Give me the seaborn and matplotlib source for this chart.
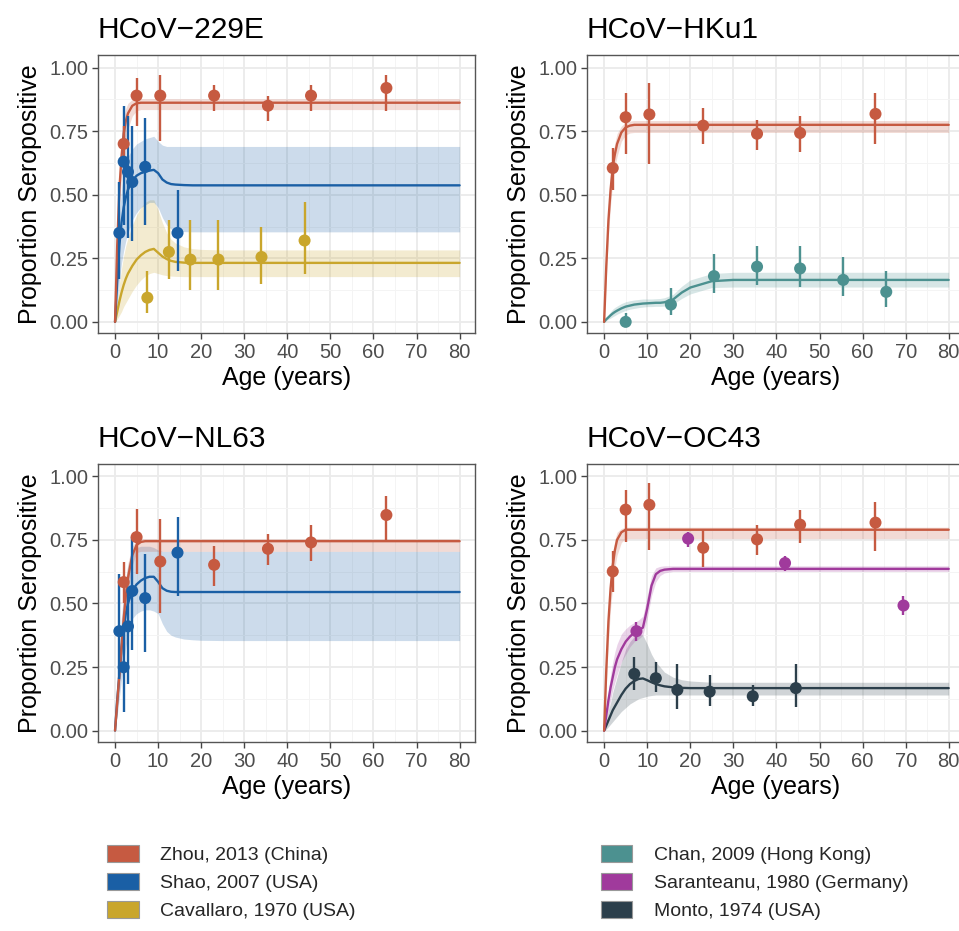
import numpy as np
import pandas as pd
import matplotlib
matplotlib.use("Agg")
import matplotlib.pyplot as plt
from matplotlib.patches import Patch
import seaborn as sns

# ---- study colours ----
STUDIES = ["Zhou, 2013 (China)", "Shao, 2007 (USA)", "Cavallaro, 1970 (USA)",
           "Chan, 2009 (Hong Kong)", "Saranteanu, 1980 (Germany)", "Monto, 1974 (USA)"]
COLORS = ["#C65A41", "#1A5FA5", "#C9A62C", "#4C9190", "#A03A9C", "#2C3F4B"]

# ---- observed points (age, proportion, lower, upper) ----
ZHOU_AGE = [2, 5, 10.5, 23, 35.5, 45.5, 63]
ZHOU_229E = [0.70, 0.89, 0.89, 0.89, 0.85, 0.89, 0.92]
ZHOU_229E_LO = [0.63, 0.77, 0.71, 0.83, 0.79, 0.83, 0.83]
ZHOU_229E_HI = [0.77, 0.96, 0.97, 0.93, 0.89, 0.93, 0.97]
ZHOU_HKU1 = [0.605, 0.805, 0.816, 0.772, 0.74, 0.743, 0.818]
ZHOU_HKU1_LO = [0.52, 0.66, 0.62, 0.70, 0.675, 0.667, 0.70]
ZHOU_HKU1_HI = [0.684, 0.90, 0.94, 0.84, 0.796, 0.81, 0.90]
ZHOU_NL63 = [0.584, 0.761, 0.665, 0.652, 0.715, 0.74, 0.848]
ZHOU_NL63_LO = [0.50, 0.614, 0.463, 0.568, 0.65, 0.667, 0.74]
ZHOU_NL63_HI = [0.665, 0.873, 0.833, 0.725, 0.774, 0.81, 0.922]
ZHOU_OC43 = [0.626, 0.869, 0.888, 0.719, 0.752, 0.81, 0.818]
ZHOU_OC43_LO = [0.545, 0.741, 0.709, 0.643, 0.692, 0.738, 0.705]
ZHOU_OC43_HI = [0.706, 0.948, 0.974, 0.787, 0.807, 0.866, 0.90]

SHAO_AGE = [1, 2, 3, 4, 7, 14.5]
SHAO_229E = [0.35, 0.63, 0.59, 0.55, 0.61, 0.35]
SHAO_229E_LO = [0.17, 0.38, 0.33, 0.32, 0.38, 0.20]
SHAO_229E_HI = [0.55, 0.85, 0.81, 0.77, 0.80, 0.52]
SHAO_NL63 = [0.391, 0.249, 0.41, 0.549, 0.521, 0.70]
SHAO_NL63_LO = [0.203, 0.072, 0.184, 0.318, 0.308, 0.531]
SHAO_NL63_HI = [0.614, 0.394, 0.56, 0.761, 0.693, 0.84]

CAVALLARO_AGE = [7.5, 12.5, 17.5, 24, 34, 44]
CAVALLARO_229E = [0.095, 0.275, 0.245, 0.245, 0.255, 0.32]
CAVALLARO_229E_LO = [0.035, 0.17, 0.125, 0.125, 0.15, 0.19]
CAVALLARO_229E_HI = [0.20, 0.40, 0.40, 0.40, 0.375, 0.47]

CHAN_AGE = [5, 15.5, 25.5, 35.5, 45.5, 55.5, 65.5]
CHAN_HKU1 = [0.0, 0.068, 0.18, 0.217, 0.21, 0.165, 0.118]
CHAN_HKU1_LO = [0.0, 0.026, 0.112, 0.145, 0.138, 0.10, 0.06]
CHAN_HKU1_HI = [0.033, 0.135, 0.267, 0.30, 0.30, 0.257, 0.20]

SARANTEANU_AGE = [7.5, 19.5, 42, 69.5]
SARANTEANU_OC43 = [0.391, 0.755, 0.659, 0.492]
SARANTEANU_OC43_LO = [0.354, 0.722, 0.627, 0.453]
SARANTEANU_OC43_HI = [0.426, 0.781, 0.685, 0.531]

MONTO_AGE = [7, 12, 17, 24.5, 34.5, 44.5]
MONTO_OC43 = [0.223, 0.206, 0.16, 0.153, 0.135, 0.167]
MONTO_OC43_LO = [0.16, 0.151, 0.085, 0.098, 0.096, 0.094]
MONTO_OC43_HI = [0.291, 0.269, 0.262, 0.217, 0.18, 0.262]

# ---- fitted curves at these ages ----
FIT_AGE = [0, 0.5, 1, 1.5, 2, 2.5, 3, 4, 5, 6, 7, 8, 9, 10, 11, 12, 13, 14, 16, 18, 20, 25, 30, 80]

FIT_229E_ZHOU = [0, 0.30, 0.52, 0.65, 0.74, 0.79, 0.82, 0.85, 0.86, 0.862, 0.862, 0.862, 0.862, 0.862,
                 0.862, 0.862, 0.862, 0.862, 0.862, 0.862, 0.862, 0.862, 0.862, 0.862]
LO_229E_ZHOU = [0, 0.24, 0.44, 0.57, 0.66, 0.72, 0.76, 0.81, 0.83, 0.835, 0.835, 0.835, 0.835, 0.835,
                0.835, 0.835, 0.835, 0.835, 0.835, 0.835, 0.835, 0.835, 0.835, 0.835]
HI_229E_ZHOU = [0, 0.36, 0.60, 0.72, 0.80, 0.84, 0.86, 0.875, 0.878, 0.878, 0.878, 0.878, 0.878, 0.878,
                0.878, 0.878, 0.878, 0.878, 0.878, 0.878, 0.878, 0.878, 0.878, 0.878]

FIT_229E_SHAO = [0, 0.16, 0.30, 0.39, 0.45, 0.49, 0.52, 0.555, 0.575, 0.585, 0.59, 0.595, 0.598, 0.585,
                 0.56, 0.548, 0.542, 0.54, 0.538, 0.537, 0.537, 0.537, 0.537, 0.537]
LO_229E_SHAO = [0, 0.08, 0.16, 0.23, 0.28, 0.32, 0.35, 0.40, 0.43, 0.45, 0.46, 0.47, 0.47, 0.45,
                0.41, 0.38, 0.365, 0.36, 0.355, 0.354, 0.354, 0.354, 0.354, 0.354]
HI_229E_SHAO = [0, 0.24, 0.42, 0.52, 0.58, 0.62, 0.65, 0.68, 0.70, 0.71, 0.72, 0.725, 0.73, 0.71,
                0.695, 0.69, 0.69, 0.69, 0.69, 0.69, 0.69, 0.69, 0.69, 0.69]

FIT_229E_CAV = [0, 0.04, 0.08, 0.115, 0.145, 0.17, 0.19, 0.22, 0.245, 0.262, 0.275, 0.283, 0.287, 0.272,
                0.257, 0.247, 0.24, 0.236, 0.233, 0.232, 0.232, 0.232, 0.232, 0.232]
LO_229E_CAV = [0, 0.01, 0.025, 0.04, 0.06, 0.075, 0.09, 0.12, 0.145, 0.165, 0.18, 0.19, 0.195, 0.19,
               0.185, 0.182, 0.18, 0.179, 0.178, 0.178, 0.178, 0.178, 0.178, 0.178]
HI_229E_CAV = [0, 0.08, 0.15, 0.21, 0.26, 0.30, 0.33, 0.38, 0.42, 0.45, 0.47, 0.48, 0.48, 0.44,
               0.39, 0.35, 0.325, 0.31, 0.295, 0.288, 0.285, 0.283, 0.283, 0.283]

FIT_HKU1_ZHOU = [0, 0.22, 0.40, 0.52, 0.61, 0.66, 0.70, 0.745, 0.765, 0.772, 0.775, 0.775, 0.775, 0.775,
                 0.775, 0.775, 0.775, 0.775, 0.775, 0.775, 0.775, 0.775, 0.775, 0.775]
LO_HKU1_ZHOU = [0, 0.17, 0.34, 0.46, 0.55, 0.61, 0.65, 0.71, 0.735, 0.743, 0.745, 0.745, 0.745, 0.745,
                0.745, 0.745, 0.745, 0.745, 0.745, 0.745, 0.745, 0.745, 0.745, 0.745]
HI_HKU1_ZHOU = [0, 0.27, 0.46, 0.58, 0.66, 0.705, 0.74, 0.77, 0.785, 0.79, 0.792, 0.792, 0.792, 0.792,
                0.792, 0.792, 0.792, 0.792, 0.792, 0.792, 0.792, 0.792, 0.792, 0.792]

FIT_HKU1_CHAN = [0, 0.01, 0.018, 0.026, 0.033, 0.039, 0.044, 0.053, 0.06, 0.064, 0.068, 0.07, 0.072, 0.073,
                 0.074, 0.075, 0.075, 0.077, 0.088, 0.115, 0.135, 0.16, 0.165, 0.165]
LO_HKU1_CHAN = [0, 0.005, 0.01, 0.015, 0.02, 0.025, 0.03, 0.038, 0.045, 0.05, 0.053, 0.056, 0.058, 0.06,
                0.06, 0.061, 0.061, 0.062, 0.07, 0.092, 0.11, 0.135, 0.137, 0.137]
HI_HKU1_CHAN = [0, 0.015, 0.028, 0.04, 0.05, 0.057, 0.062, 0.072, 0.079, 0.083, 0.086, 0.088, 0.09, 0.09,
                0.09, 0.091, 0.092, 0.095, 0.108, 0.14, 0.165, 0.19, 0.195, 0.195]

FIT_NL63_ZHOU = [0, 0.11, 0.22, 0.33, 0.44, 0.53, 0.60, 0.69, 0.73, 0.742, 0.745, 0.745, 0.745, 0.745,
                 0.745, 0.745, 0.745, 0.745, 0.745, 0.745, 0.745, 0.745, 0.745, 0.745]
LO_NL63_ZHOU = [0, 0.07, 0.16, 0.26, 0.36, 0.46, 0.54, 0.65, 0.70, 0.705, 0.705, 0.705, 0.705, 0.705,
                0.705, 0.705, 0.705, 0.705, 0.705, 0.705, 0.705, 0.705, 0.705, 0.705]
HI_NL63_ZHOU = [0, 0.15, 0.28, 0.40, 0.51, 0.60, 0.66, 0.725, 0.75, 0.755, 0.755, 0.755, 0.755, 0.755,
                0.755, 0.755, 0.755, 0.755, 0.755, 0.755, 0.755, 0.755, 0.755, 0.755]

FIT_NL63_SHAO = [0, 0.12, 0.22, 0.32, 0.40, 0.46, 0.50, 0.55, 0.575, 0.59, 0.60, 0.605, 0.605, 0.585,
                 0.56, 0.55, 0.546, 0.545, 0.545, 0.545, 0.545, 0.545, 0.545, 0.545]
LO_NL63_SHAO = [0, 0.06, 0.13, 0.20, 0.27, 0.33, 0.37, 0.44, 0.46, 0.47, 0.475, 0.475, 0.47, 0.46,
                0.42, 0.39, 0.375, 0.368, 0.36, 0.357, 0.355, 0.354, 0.354, 0.354]
HI_NL63_SHAO = [0, 0.19, 0.33, 0.45, 0.54, 0.60, 0.65, 0.70, 0.72, 0.725, 0.725, 0.725, 0.72, 0.71,
                0.705, 0.705, 0.705, 0.705, 0.705, 0.705, 0.705, 0.705, 0.705, 0.705]

FIT_OC43_ZHOU = [0, 0.24, 0.43, 0.56, 0.65, 0.71, 0.75, 0.78, 0.79, 0.79, 0.79, 0.79, 0.79, 0.79,
                 0.79, 0.79, 0.79, 0.79, 0.79, 0.79, 0.79, 0.79, 0.79, 0.79]
LO_OC43_ZHOU = [0, 0.18, 0.35, 0.48, 0.57, 0.64, 0.69, 0.74, 0.755, 0.755, 0.755, 0.755, 0.755, 0.755,
                0.755, 0.755, 0.755, 0.755, 0.755, 0.755, 0.755, 0.755, 0.755, 0.755]
HI_OC43_ZHOU = [0, 0.30, 0.50, 0.62, 0.70, 0.75, 0.78, 0.795, 0.80, 0.80, 0.80, 0.80, 0.80, 0.80,
                0.80, 0.80, 0.80, 0.80, 0.80, 0.80, 0.80, 0.80, 0.80, 0.80]

FIT_OC43_SAR = [0, 0.06, 0.12, 0.17, 0.21, 0.25, 0.28, 0.32, 0.35, 0.37, 0.385, 0.395, 0.405, 0.48,
                0.57, 0.615, 0.628, 0.633, 0.636, 0.636, 0.636, 0.636, 0.636, 0.636]
LO_OC43_SAR = [0, 0.04, 0.08, 0.12, 0.16, 0.19, 0.22, 0.27, 0.30, 0.33, 0.35, 0.36, 0.375, 0.44,
               0.53, 0.585, 0.61, 0.62, 0.626, 0.626, 0.626, 0.626, 0.626, 0.626]
HI_OC43_SAR = [0, 0.08, 0.16, 0.22, 0.27, 0.31, 0.34, 0.38, 0.40, 0.415, 0.425, 0.435, 0.45, 0.53,
               0.61, 0.64, 0.646, 0.648, 0.648, 0.648, 0.648, 0.648, 0.648, 0.648]

FIT_OC43_MONTO = [0, 0.02, 0.04, 0.06, 0.08, 0.095, 0.11, 0.14, 0.165, 0.183, 0.195, 0.203, 0.205, 0.198,
                  0.19, 0.183, 0.178, 0.174, 0.17, 0.168, 0.167, 0.167, 0.167, 0.167]
LO_OC43_MONTO = [0, 0.005, 0.015, 0.025, 0.035, 0.045, 0.055, 0.075, 0.09, 0.105, 0.115, 0.125, 0.13, 0.135,
                 0.138, 0.14, 0.14, 0.14, 0.14, 0.14, 0.14, 0.14, 0.14, 0.14]
HI_OC43_MONTO = [0, 0.04, 0.08, 0.11, 0.15, 0.18, 0.21, 0.27, 0.32, 0.35, 0.37, 0.38, 0.375, 0.34,
                 0.30, 0.27, 0.25, 0.23, 0.21, 0.2, 0.195, 0.19, 0.19, 0.19]


def main():
    sns.set_theme(style="whitegrid")
    plt.rcParams["font.family"] = ["Liberation Sans", "DejaVu Sans"]
    col = dict(zip(STUDIES, COLORS))
    z, s, c, ch, sa, m = STUDIES

    panels = [
        ("HCoV\u2212229E", [0.102, 0.642],
         [(c, FIT_229E_CAV, LO_229E_CAV, HI_229E_CAV),
          (s, FIT_229E_SHAO, LO_229E_SHAO, HI_229E_SHAO),
          (z, FIT_229E_ZHOU, LO_229E_ZHOU, HI_229E_ZHOU)],
         [(c, CAVALLARO_AGE, CAVALLARO_229E, CAVALLARO_229E_LO, CAVALLARO_229E_HI),
          (s, SHAO_AGE, SHAO_229E, SHAO_229E_LO, SHAO_229E_HI),
          (z, ZHOU_AGE, ZHOU_229E, ZHOU_229E_LO, ZHOU_229E_HI)]),
        ("HCoV\u2212HKu1", [0.612, 0.642],
         [(ch, FIT_HKU1_CHAN, LO_HKU1_CHAN, HI_HKU1_CHAN),
          (z, FIT_HKU1_ZHOU, LO_HKU1_ZHOU, HI_HKU1_ZHOU)],
         [(ch, CHAN_AGE, CHAN_HKU1, CHAN_HKU1_LO, CHAN_HKU1_HI),
          (z, ZHOU_AGE, ZHOU_HKU1, ZHOU_HKU1_LO, ZHOU_HKU1_HI)]),
        ("HCoV\u2212NL63", [0.102, 0.203],
         [(s, FIT_NL63_SHAO, LO_NL63_SHAO, HI_NL63_SHAO),
          (z, FIT_NL63_ZHOU, LO_NL63_ZHOU, HI_NL63_ZHOU)],
         [(s, SHAO_AGE, SHAO_NL63, SHAO_NL63_LO, SHAO_NL63_HI),
          (z, ZHOU_AGE, ZHOU_NL63, ZHOU_NL63_LO, ZHOU_NL63_HI)]),
        ("HCoV\u2212OC43", [0.612, 0.203],
         [(m, FIT_OC43_MONTO, LO_OC43_MONTO, HI_OC43_MONTO),
          (sa, FIT_OC43_SAR, LO_OC43_SAR, HI_OC43_SAR),
          (z, FIT_OC43_ZHOU, LO_OC43_ZHOU, HI_OC43_ZHOU)],
         [(m, MONTO_AGE, MONTO_OC43, MONTO_OC43_LO, MONTO_OC43_HI),
          (sa, SARANTEANU_AGE, SARANTEANU_OC43, SARANTEANU_OC43_LO, SARANTEANU_OC43_HI),
          (z, ZHOU_AGE, ZHOU_OC43, ZHOU_OC43_LO, ZHOU_OC43_HI)]),
    ]

    fig = plt.figure(figsize=(9.59, 9.31), dpi=100)
    for title, (left, bottom), fits, pts in panels:
        ax = fig.add_axes([left, bottom, 0.393, 0.299])
        ax.set_facecolor("white")
        # ribbons then fitted lines
        for study, fit, lo, hi in fits:
            ax.fill_between(FIT_AGE, lo, hi, color=col[study], alpha=0.22, lw=0, zorder=2)
        for study, fit, lo, hi in fits:
            sns.lineplot(x=FIT_AGE, y=fit, color=col[study], lw=1.7, ax=ax, zorder=3,
                         sort=False, estimator=None)
        # observed points with intervals
        for study, age, p, lo, hi in pts:
            df = pd.DataFrame({"age": age, "p": p, "lo": lo, "hi": hi})
            ax.vlines(df["age"], df["lo"], df["hi"], color=col[study], lw=1.7, zorder=4)
            sns.scatterplot(data=df, x="age", y="p", color=col[study], s=75,
                            edgecolor="none", ax=ax, zorder=5, legend=False)

        ax.set_xlim(-4, 83.5)
        ax.set_ylim(-0.045, 1.05)
        ax.set_xticks(range(0, 81, 10))
        ax.set_xticks(range(5, 80, 10), minor=True)
        ax.set_yticks([0, 0.25, 0.5, 0.75, 1.0])
        ax.set_yticklabels(["0.00", "0.25", "0.50", "0.75", "1.00"])
        ax.set_yticks([0.125, 0.375, 0.625, 0.875], minor=True)
        ax.grid(which="major", color="#EBEBEB", lw=1.3)
        ax.grid(which="minor", color="#F4F4F4", lw=0.7)
        ax.set_axisbelow(True)
        for sp in ax.spines.values():
            sp.set_color("#555555")
            sp.set_linewidth(1.0)
        ax.tick_params(which="major", bottom=True, left=True, length=4, width=1,
                       color="#444444", labelsize=14.5, labelcolor="#4D4D4D", pad=3)
        ax.tick_params(which="minor", bottom=False, left=False)
        ax.set_xlabel("Age (years)", fontsize=18, labelpad=3, color="black")
        ax.set_ylabel("Proportion Seropositive", fontsize=18, labelpad=5, color="black")
        ax.set_title(title, loc="left", fontsize=21.5, pad=12, color="black")

    # two-part legend at the bottom
    left_h = [Patch(facecolor=col[k], edgecolor="#999999", lw=0.8) for k in STUDIES[:3]]
    right_h = [Patch(facecolor=col[k], edgecolor="#999999", lw=0.8) for k in STUDIES[3:]]
    common = dict(loc="upper left", frameon=False, fontsize=14, handlelength=1.6,
                  handleheight=0.95, labelspacing=0.45, handletextpad=1.1,
                  borderpad=0, borderaxespad=0)
    fig.legend(left_h, STUDIES[:3], bbox_to_anchor=(0.112, 0.092), **common)
    fig.legend(right_h, STUDIES[3:], bbox_to_anchor=(0.627, 0.092), **common)

    fig.savefig("out.png", dpi=100)
    plt.close(fig)


if __name__ == "__main__":
    main()
